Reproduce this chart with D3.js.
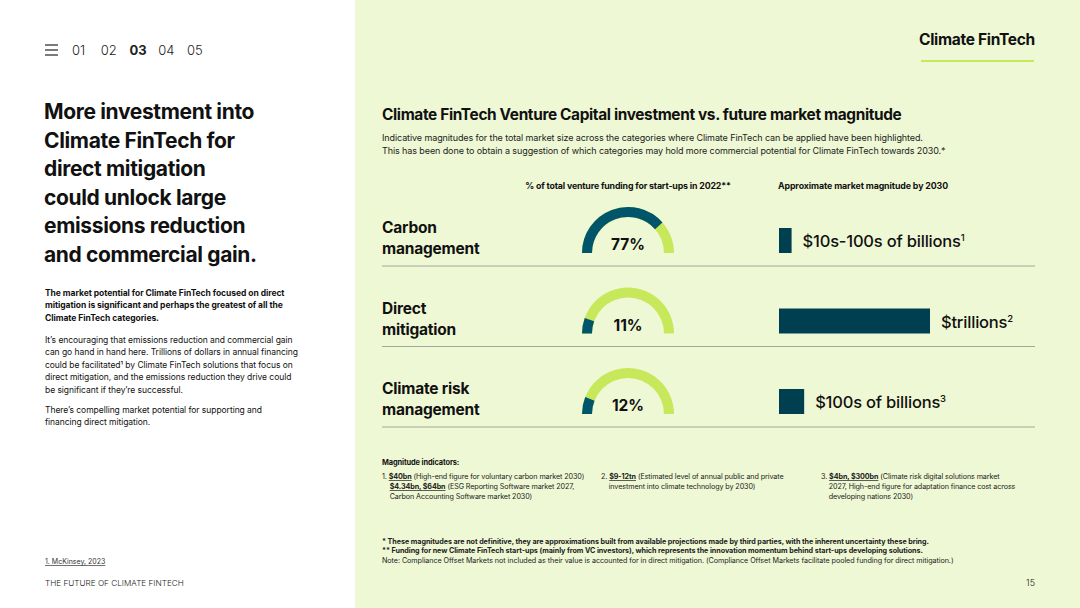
<!DOCTYPE html>
<html>
<head>
<meta charset="utf-8">
<script src="https://cdn.jsdelivr.net/npm/d3@7"></script>
<style>
  body { margin: 0; background: #fff; }
  svg { display: block; font-family: Inter, "Noto Sans", sans-serif; }
</style>
</head>
<body>
<svg id="chart" width="1080" height="608"></svg>
<script>
// chart data
const categories = ["Carbon management", "Direct mitigation", "Climate risk management"];
const categoryLines = [["Carbon", "management"], ["Direct", "mitigation"], ["Climate risk", "management"]];
const vcShare = [77, 11, 12]; // % of total venture funding 2022
const magnitude = [0.5, 6, 1]; // indicative relative size of market by 2030
const magnitudeLabels = ["$10s-100s of billions", "$trillions", "$100s of billions"];
const magnitudeNotes = ["1", "2", "3"];
const navItems = ["01", "02", "03", "04", "05"];
const activeNav = "03";

const dark = "#00556a";
const barDark = "#003f50";
const lime = "#c8e85c";
const ink = "#111";

const svg = d3.select("#chart");

// panels
svg.append("rect").attr("x", 0).attr("y", 0).attr("width", 355).attr("height", 608).attr("fill", "#fff");
svg.append("rect").attr("x", 355).attr("y", 0).attr("width", 725).attr("height", 608).attr("fill", "#eff8d4");

// ---------- left panel ----------
const burger = svg.append("g").attr("stroke", "#222").attr("stroke-width", 1.2);
[45, 50, 55].forEach(y => burger.append("line").attr("x1", 45).attr("x2", 58).attr("y1", y).attr("y2", y));

const navX = d3.scalePoint().domain(navItems).range([72, 187]);
svg.selectAll("text.nav")
  .data(navItems)
  .enter()
  .append("text")
  .attr("class", "nav")
  .attr("x", d => navX(d))
  .attr("y", 55)
  .attr("font-size", 13)
  .attr("font-weight", d => d === activeNav ? 700 : 300)
  .attr("fill", "#222")
  .text(d => d);

const headline = ["More investment into", "Climate FinTech for", "direct mitigation", "could unlock large", "emissions reduction", "and commercial gain."];
svg.append("text")
  .attr("font-size", 21)
  .attr("font-weight", 700)
  .attr("letter-spacing", -0.35)
  .attr("fill", ink)
  .selectAll("tspan")
  .data(headline)
  .enter()
  .append("tspan")
  .attr("x", 44)
  .attr("y", (d, i) => 119 + i * 28.5)
  .text(d => d);

const para = (lines, y0, weight) => {
  svg.append("text")
    .attr("font-size", 8.5)
    .attr("font-weight", weight)
    .attr("fill", ink)
    .attr("letter-spacing", -0.05)
    .selectAll("tspan")
    .data(lines)
    .enter()
    .append("tspan")
    .attr("x", 45)
    .attr("y", (d, i) => y0 + i * 12.4)
    .text(d => d);
};
para(["The market potential for Climate FinTech focused on direct",
      "mitigation is significant and perhaps the greatest of all the",
      "Climate FinTech categories."], 296, 700);
para(["It\u2019s encouraging that emissions reduction and commercial gain",
      "can go hand in hand here. Trillions of dollars in annual financing",
      "could be facilitated\u00b9 by Climate FinTech solutions that focus on",
      "direct mitigation, and the emissions reduction they drive could",
      "be significant if they\u2019re successful."], 343, 400);
para(["There\u2019s compelling market potential for supporting and",
      "financing direct mitigation."], 413, 400);

svg.append("text").attr("x", 45).attr("y", 564).attr("font-size", 7).attr("fill", "#333")
  .attr("text-decoration", "underline").text("1. McKinsey, 2023");
svg.append("text").attr("x", 45).attr("y", 586).attr("font-size", 8.2).attr("font-weight", 300)
  .attr("fill", "#222").text("THE FUTURE OF CLIMATE FINTECH");

// ---------- right panel header ----------
svg.append("text").attr("x", 919).attr("y", 45).attr("font-size", 15.5).attr("font-weight", 700)
  .attr("fill", ink).attr("letter-spacing", -0.3).text("Climate FinTech");
svg.append("line").attr("x1", 921).attr("x2", 1034).attr("y1", 61).attr("y2", 61)
  .attr("stroke", lime).attr("stroke-width", 2);

svg.append("text").attr("x", 382).attr("y", 120).attr("font-size", 15.4).attr("font-weight", 700)
  .attr("fill", ink).attr("letter-spacing", -0.35)
  .text("Climate FinTech Venture Capital investment vs. future market magnitude");

svg.append("text")
  .attr("font-size", 9)
  .attr("fill", "#222")
  .selectAll("tspan")
  .data(["Indicative magnitudes for the total market size across the categories where Climate FinTech can be applied have been highlighted.",
         "This has been done to obtain a suggestion of which categories may hold more commercial potential for Climate FinTech towards 2030.*"])
  .enter()
  .append("tspan")
  .attr("x", 382)
  .attr("y", (d, i) => 141 + i * 12.5)
  .attr("letter-spacing", -0.1)
  .text(d => d);

svg.append("text").attr("x", 628).attr("y", 189).attr("text-anchor", "middle")
  .attr("font-size", 8.8).attr("font-weight", 700).attr("fill", ink).attr("letter-spacing", -0.15)
  .text("% of total venture funding for start-ups in 2022**");
svg.append("text").attr("x", 778).attr("y", 189)
  .attr("font-size", 8.8).attr("font-weight", 700).attr("fill", ink).attr("letter-spacing", -0.1)
  .text("Approximate market magnitude by 2030");

// ---------- rows ----------
const y = d3.scalePoint().domain(categories).range([253, 414]);
const angle = d3.scaleLinear().domain([0, 100]).range([-Math.PI / 2, Math.PI / 2]);
const barW = d3.scaleLinear().domain([0, d3.max(magnitude)]).range([0, 151]);
const arc = d3.arc().innerRadius(36).outerRadius(46);
const gaugeX = 628;
const barX = 779;
const barH = 25;

const rows = svg.selectAll("g.row")
  .data(categories.map((c, i) => ({
    name: c, lines: categoryLines[i], share: vcShare[i],
    mag: magnitude[i], label: magnitudeLabels[i], note: magnitudeNotes[i]
  })))
  .enter()
  .append("g")
  .attr("class", "row")
  .attr("transform", d => `translate(0, ${y(d.name)})`);

rows.append("line")
  .attr("x1", 382).attr("x2", 1035)
  .attr("y1", 13).attr("y2", 13)
  .attr("stroke", "#a3a79c").attr("stroke-width", 1);

rows.append("text")
  .attr("font-size", 15.5)
  .attr("font-weight", 700)
  .attr("fill", ink)
  .attr("letter-spacing", -0.2)
  .selectAll("tspan")
  .data(d => d.lines)
  .enter()
  .append("tspan")
  .attr("x", 382)
  .attr("y", (d, i) => -20 + i * 21)
  .text(d => d);

const gauge = rows.append("g").attr("transform", `translate(${gaugeX}, 0)`);
gauge.append("path")
  .attr("fill", lime)
  .attr("d", arc({ startAngle: angle(0), endAngle: angle(100) }));
gauge.append("path")
  .attr("fill", dark)
  .attr("d", d => arc({ startAngle: angle(0), endAngle: angle(d.share) }));
gauge.append("text")
  .attr("y", -3)
  .attr("text-anchor", "middle")
  .attr("font-size", 15.5)
  .attr("font-weight", 700)
  .attr("fill", ink)
  .text(d => d.share + "%");

rows.append("rect")
  .attr("x", barX)
  .attr("y", -barH)
  .attr("width", d => barW(d.mag))
  .attr("height", barH)
  .attr("fill", barDark);

const magText = rows.append("text")
  .attr("x", d => barX + barW(d.mag) + 11)
  .attr("y", -6)
  .attr("font-size", 16.5)
  .attr("font-weight", 500)
  .attr("fill", ink)
  .attr("letter-spacing", -0.2);
magText.append("tspan").text(d => d.label);
magText.append("tspan").attr("font-size", 9.5).attr("dy", -6).text(d => d.note);

// ---------- magnitude indicators ----------
svg.append("text").attr("x", 382).attr("y", 465).attr("font-size", 7.4).attr("font-weight", 700)
  .attr("fill", ink).attr("letter-spacing", -0.1).text("Magnitude indicators:");

const notes = [
  { x: 382, lines: [[["1. ", 0], ["$40bn", 1], [" (High-end figure for voluntary carbon market 2030)", 0]],
                    [["    ", 0], ["$4.34bn, $64bn", 1], [" (ESG Reporting Software market 2027,", 0]],
                    [["    Carbon Accounting Software market 2030)", 0]]] },
  { x: 601, lines: [[["2. ", 0], ["$9-12tn", 1], [" (Estimated level of annual public and private", 0]],
                    [["    investment into climate technology by 2030)", 0]]] },
  { x: 821, lines: [[["3. ", 0], ["$4bn, $300bn", 1], [" (Climate risk digital solutions market", 0]],
                    [["    2027, High-end figure for adaptation finance cost across", 0]],
                    [["    developing nations 2030)", 0]]] }
];
notes.forEach(n => {
  n.lines.forEach((line, i) => {
    const t = svg.append("text")
      .attr("x", n.x)
      .attr("y", 479 + i * 10)
      .attr("font-size", 7.2)
      .attr("fill", "#222")
      .attr("letter-spacing", -0.1)
      .attr("xml:space", "preserve")
      .style("white-space", "pre");
    line.forEach(([s, b]) => {
      t.append("tspan")
        .attr("font-weight", b ? 700 : 400)
        .attr("text-decoration", b ? "underline" : null)
        .text(s);
    });
  });
});

// ---------- footnotes ----------
const foot = [
  ["* These magnitudes are not definitive, they are approximations built from available projections made by third parties, with the inherent uncertainty these bring.", 700],
  ["** Funding for new Climate FinTech start-ups (mainly from VC investors), which represents the innovation momentum behind start-ups developing solutions.", 700],
  ["Note: Compliance Offset Markets not included as their value is accounted for in direct mitigation. (Compliance Offset Markets facilitate pooled funding for direct mitigation.)", 400]
];
svg.selectAll("text.foot")
  .data(foot)
  .enter()
  .append("text")
  .attr("class", "foot")
  .attr("x", 382)
  .attr("y", (d, i) => 544 + i * 9.3)
  .attr("font-size", 7.2)
  .attr("font-weight", d => d[1])
  .attr("fill", "#222")
  .attr("letter-spacing", -0.06)
  .text(d => d[0]);

svg.append("text").attr("x", 1035).attr("y", 586).attr("text-anchor", "end")
  .attr("font-size", 9).attr("font-weight", 300).attr("fill", "#222").text("15");
</script>
</body>
</html>
